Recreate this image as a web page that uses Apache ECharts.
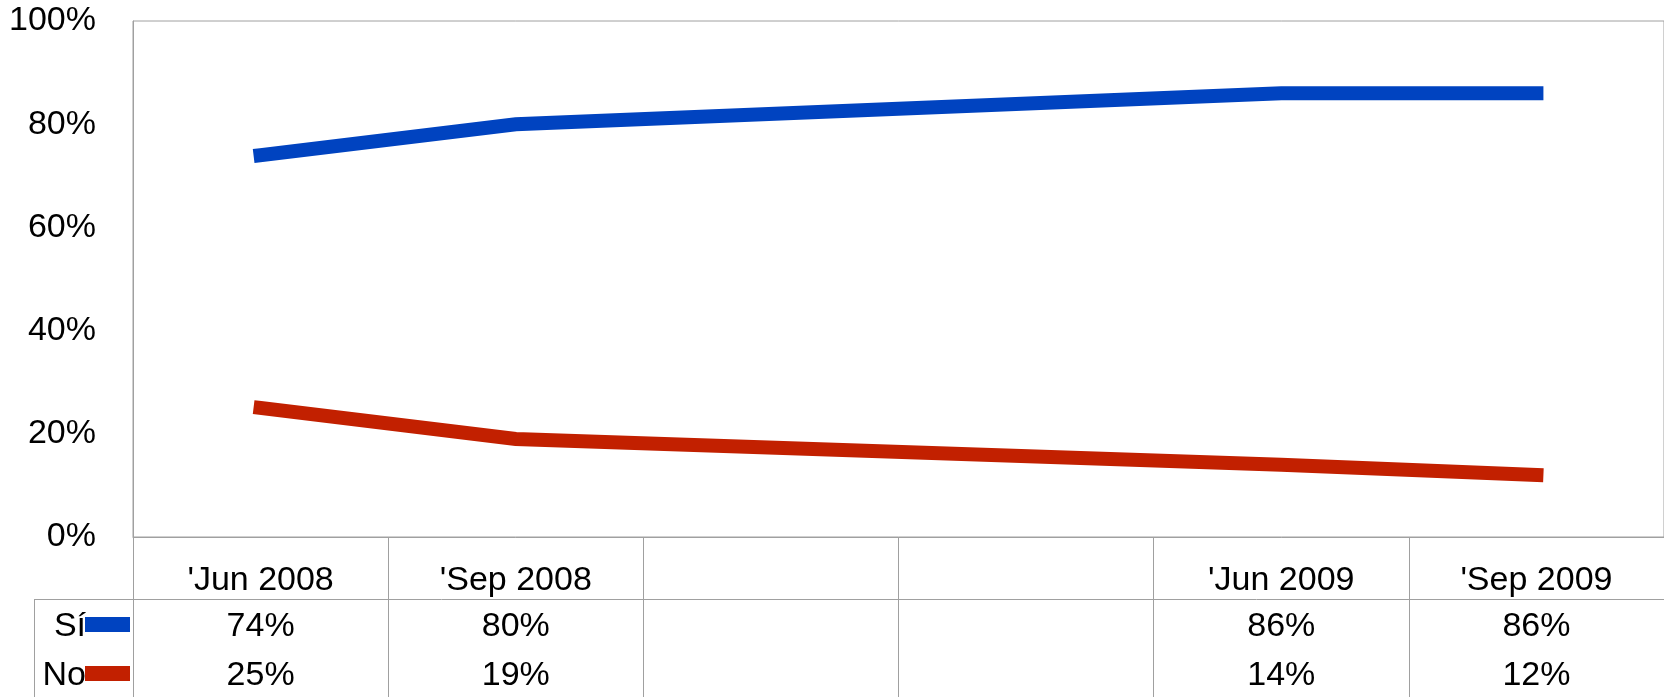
<!DOCTYPE html>
<html>
<head>
<meta charset="utf-8">
<script src="https://cdn.jsdelivr.net/npm/echarts@6/dist/echarts.min.js"></script>
<style>
  html, body { margin: 0; padding: 0; background: #ffffff; }
  #chart { width: 1664px; height: 697px; }
</style>
</head>
<body>
<div id="chart"></div>
<script>
// Survey periods (two unnamed periods without data in between)
const categories = ["'Jun 2008", "'Sep 2008", "", " ", "'Jun 2009", "'Sep 2009"];
const seriesNames = ['Sí', 'No'];
const siValues = [74, 80, null, null, 86, 86];
const noValues = [25, 19, null, null, 14, 12];
const yMin = 0, yMax = 100, yStep = 20;

const FONT = '"Liberation Sans", Arial, sans-serif';
const FONT_SIZE = 34;
const GRID_COLOR = '#a0a0a0';
const colors = ['#0043c0', '#c22000'];

// Plot area and data-table geometry
const PLOT_LEFT = 133, PLOT_TOP = 21, PLOT_W = 1536, PLOT_H = 516;
const HEADER_BOTTOM = 599;
const TABLE_LEFT = 34;
const ROW_Y = [627, 676];

const chart = echarts.init(document.getElementById('chart'), null, { renderer: 'canvas' });

const option = {
  animation: false,
  backgroundColor: '#ffffff',
  grid: {
    left: PLOT_LEFT, top: PLOT_TOP, width: PLOT_W, height: PLOT_H,
    show: true, borderColor: GRID_COLOR, borderWidth: 1, backgroundColor: 'transparent',
    containLabel: false
  },
  xAxis: {
    type: 'category',
    data: categories,
    boundaryGap: true,
    axisLine: { show: true, lineStyle: { color: GRID_COLOR, width: 1 } },
    axisTick: { show: true, interval: 0, length: 697 - (PLOT_TOP + PLOT_H), lineStyle: { color: GRID_COLOR, width: 1 } },
    axisLabel: { interval: 0, margin: 27, color: '#000', fontSize: FONT_SIZE, fontFamily: FONT },
    splitLine: { show: false }
  },
  yAxis: {
    type: 'value',
    min: yMin, max: yMax, interval: yStep,
    axisLine: { show: true, lineStyle: { color: GRID_COLOR, width: 1 } },
    axisTick: { show: false },
    splitLine: { show: false },
    axisLabel: {
      formatter: '{value}%', margin: 37, color: '#000', fontSize: FONT_SIZE, fontFamily: FONT,
      padding: [6, 0, 0, 0]
    }
  },
  series: [
    {
      name: seriesNames[0], type: 'line', data: siValues, connectNulls: true,
      showSymbol: false, symbol: 'none',
      lineStyle: { color: colors[0], width: 14, cap: 'square', join: 'miter' },
      itemStyle: { color: colors[0] }
    },
    {
      name: seriesNames[1], type: 'line', data: noValues, connectNulls: true,
      showSymbol: false, symbol: 'none',
      lineStyle: { color: colors[1], width: 14, cap: 'square', join: 'miter' },
      itemStyle: { color: colors[1] }
    }
  ]
};

chart.setOption(option);

// Data table under the plot: legend keys plus one value per period
function buildTable() {
  const els = [];
  const rows = [
    { name: seriesNames[0], values: siValues, color: colors[0], y: ROW_Y[0] },
    { name: seriesNames[1], values: noValues, color: colors[1], y: ROW_Y[1] }
  ];
  rows.forEach(function (r) {
    r.values.forEach(function (v, i) {
      if (v == null) return;
      const x = chart.convertToPixel({ xAxisIndex: 0 }, i);
      els.push({
        type: 'text', x: x, y: r.y, z: 10,
        style: { text: v + '%', fill: '#000', fontSize: FONT_SIZE, fontFamily: FONT, align: 'center', verticalAlign: 'middle' }
      });
    });
    els.push({
      type: 'text', x: 86, y: r.y, z: 10,
      style: { text: r.name, fill: '#000', fontSize: FONT_SIZE, fontFamily: FONT, align: 'right', verticalAlign: 'middle' }
    });
    els.push({
      type: 'rect', z: 11,
      shape: { x: 85, y: r.y - 10, width: 45, height: 15 },
      style: { fill: r.color }
    });
  });
  els.push({
    type: 'line', z: 5,
    shape: { x1: TABLE_LEFT, y1: HEADER_BOTTOM + 0.5, x2: 1664, y2: HEADER_BOTTOM + 0.5 },
    style: { stroke: GRID_COLOR, lineWidth: 1 }
  });
  els.push({
    type: 'line', z: 5,
    shape: { x1: TABLE_LEFT + 0.5, y1: HEADER_BOTTOM, x2: TABLE_LEFT + 0.5, y2: 697 },
    style: { stroke: GRID_COLOR, lineWidth: 1 }
  });
  chart.setOption({ graphic: els });
}
buildTable();
</script>
</body>
</html>
